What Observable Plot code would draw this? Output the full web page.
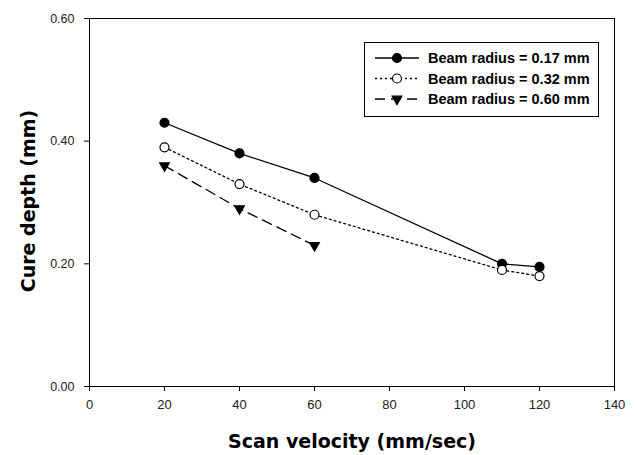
<!DOCTYPE html>
<html><head><meta charset="utf-8">
<script src="https://cdn.jsdelivr.net/npm/d3@7"></script>
<script src="https://cdn.jsdelivr.net/npm/@observablehq/plot@0.6"></script>
<style>
body{margin:0;background:#fff;font-family:"Liberation Sans",Arial,sans-serif;}
#wrap{position:relative;width:635px;height:455px;}
</style></head>
<body><div id="wrap"></div>
<script>
const series = ["Beam radius = 0.17 mm","Beam radius = 0.32 mm","Beam radius = 0.60 mm"];
const velocities = [[20,40,60,110,120],[20,40,60,110,120],[20,40,60]];
const depths = [[0.43,0.38,0.34,0.20,0.195],[0.39,0.33,0.28,0.19,0.18],[0.36,0.29,0.23]];
const xTicks = [0,20,40,60,80,100,120,140];
const yTicks = [0,0.2,0.4,0.6];

const dashes = ["none","2,3","10,6"];
const fills = ["black","white","black"];
const symbols = ["circle","circle","triangle"];
const rotates = [0,0,180];
const radii = [4.5,4.5,3.6];

const rows = series.map((s,i)=>velocities[i].map((v,j)=>({s,v,d:depths[i][j]})));

const marks = [Plot.frame({stroke:"black"})];
rows.forEach((r,i)=>{
  marks.push(Plot.line(r,{x:"v",y:"d",stroke:"black",strokeWidth:1.3,strokeDasharray:dashes[i]}));
});
rows.forEach((r,i)=>{
  marks.push(Plot.dot(r,{x:"v",y:"d",symbol:symbols[i],rotate:rotates[i],r:radii[i],fill:fills[i],stroke:"black",strokeWidth:1.2}));
});
marks.push(Plot.axisX({ticks:xTicks,tickSize:5,tickPadding:8,fontSize:13,fill:"#222",label:null}));
marks.push(Plot.axisY({ticks:yTicks,tickSize:5,tickPadding:10,fontSize:12.5,fill:"#222",tickFormat:d3.format(".2f"),label:null}));

const chart = Plot.plot({
  width:635,height:455,
  marginLeft:89,marginRight:21,marginTop:18,marginBottom:69,
  x:{domain:[0,140]},
  y:{domain:[0,0.6]},
  style:{fontFamily:"'Liberation Sans',Arial,sans-serif",background:"white"},
  marks
});
document.getElementById("wrap").appendChild(chart);

const svg = d3.select(chart);
const titleFont = "'DejaVu Sans',sans-serif";
svg.append("text").attr("x",352).attr("y",448).attr("text-anchor","middle")
  .attr("font-size",19).attr("font-weight","bold").attr("font-family",titleFont).text("Scan velocity (mm/sec)");
svg.append("text").attr("transform","translate(35,201) rotate(-90)").attr("text-anchor","middle")
  .attr("font-size",19).attr("font-weight","bold").attr("font-family",titleFont).text("Cure depth (mm)");

// legend
const lg = svg.append("g");
lg.append("rect").attr("x",364.5).attr("y",42.5).attr("width",234).attr("height",74).attr("fill","white").attr("stroke","black");
series.forEach((s,i)=>{
  const y = 58 + i*20.5;
  lg.append("line").attr("x1",375).attr("x2",419).attr("y1",y).attr("y2",y).attr("stroke","black").attr("stroke-width",1.3).attr("stroke-dasharray",dashes[i]);
  lg.append("path").attr("transform",`translate(397,${y}) rotate(${rotates[i]})`)
    .attr("d",d3.symbol(symbols[i]==="circle"?d3.symbolCircle:d3.symbolTriangle, Math.PI*radii[i]*radii[i])())
    .attr("fill",fills[i]).attr("stroke","black").attr("stroke-width",1.2);
  lg.append("text").attr("x",428).attr("y",y+5).attr("text-anchor","start").attr("font-size",14.5).attr("font-weight","bold")
    .attr("font-family","'Liberation Sans',Arial,sans-serif").text(s);
});
</script></body></html>
